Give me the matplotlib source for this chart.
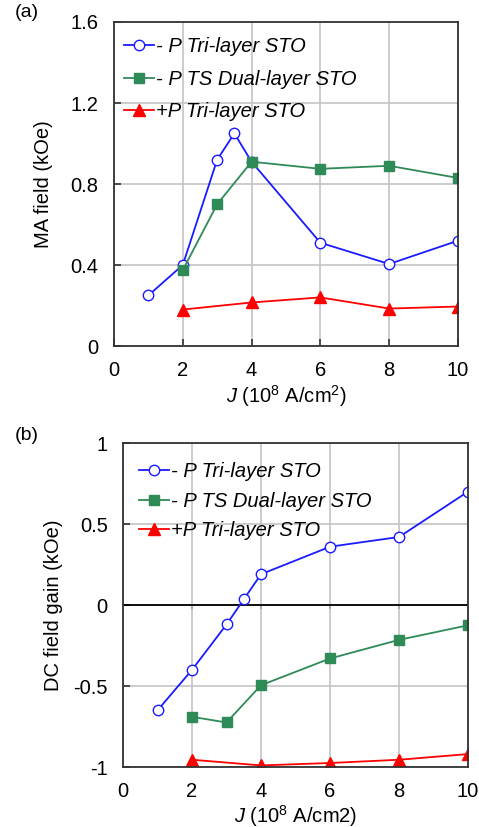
import numpy as np
import matplotlib.pyplot as plt

plt.rcParams.update({
    "font.family": ["Liberation Sans", "DejaVu Sans"],
    "font.size": 14.5,
    "mathtext.fontset": "custom",
    "mathtext.rm": "Liberation Sans",
    "mathtext.it": "Liberation Sans:italic",
    "axes.unicode_minus": False,
})

# panel (a): MA field (kOe)
j_tri = [1, 2, 3, 3.5, 4, 6, 8, 10]
ma_tri_neg = [0.25, 0.40, 0.92, 1.05, 0.91, 0.51, 0.405, 0.52]
j_dual = [2, 3, 4, 6, 8, 10]
ma_dual_neg = [0.375, 0.70, 0.91, 0.875, 0.89, 0.83]
j_pos = [2, 4, 6, 8, 10]
ma_tri_pos = [0.18, 0.215, 0.24, 0.185, 0.195]

# panel (b): DC field gain (kOe)
dc_tri_neg = [-0.65, -0.40, -0.12, 0.035, 0.19, 0.36, 0.42, 0.70]
dc_dual_neg = [-0.69, -0.725, -0.495, -0.33, -0.215, -0.125]
dc_tri_pos = [-0.955, -0.99, -0.975, -0.955, -0.92]

labels = ["- P Tri-layer STO", "- P TS Dual-layer STO", "+P Tri-layer STO"]
blue, green, red = "#1a1aff", "#2e8b57", "#ff0000"


def style(ax):
    for sp in ax.spines.values():
        sp.set_color("#333333")
        sp.set_linewidth(1.3)
    ax.grid(True, color="#c4c4c4", linewidth=1.2)
    ax.set_axisbelow(True)
    ax.set_xlim(0, 10)
    ax.set_xticks(np.arange(0, 11, 2))
    ax.tick_params(direction="in", length=5, width=1.2, color="#333333", pad=11)


def plot_series(ax, tri_neg, dual_neg, tri_pos):
    ax.plot(j_tri, tri_neg, color=blue, lw=1.3, marker="o", ms=7.5,
            mfc="white", mec=blue, mew=1.0, label=labels[0])
    ax.plot(j_dual, dual_neg, color=green, lw=1.3, marker="s", ms=6.5,
            mfc=green, mec=green, label=labels[1])
    ax.plot(j_pos, tri_pos, color=red, lw=1.3, marker="^", ms=8.5,
            mfc=red, mec=red, label=labels[2])


fig = plt.figure(figsize=(4.79, 8.27), dpi=100)
ax1 = fig.add_axes([0.238, 0.5816, 0.718, 0.3918])
ax2 = fig.add_axes([0.2568, 0.0725, 0.7203, 0.3918])

style(ax1)
plot_series(ax1, ma_tri_neg, ma_dual_neg, ma_tri_pos)
ax1.set_ylim(0, 1.6)
ax1.set_yticks([0, 0.4, 0.8, 1.2, 1.6])
ax1.set_yticklabels(["0", "0.4", "0.8", "1.2", "1.6"])
ax1.set_ylabel("MA field (kOe)")
ax1.yaxis.set_label_coords(-0.177, 0.5)
ax1.set_xlabel(r"$J$ (10$^8$ A/cm$^2$)", labelpad=2)
ax1.legend(loc="upper left", bbox_to_anchor=(-0.015, 1.0), frameon=False,
           prop={"style": "italic", "size": 14.5}, handlelength=1.5,
           handletextpad=0.1, labelspacing=0.68, borderaxespad=0.35)

style(ax2)
plot_series(ax2, dc_tri_neg, dc_dual_neg, dc_tri_pos)
ax2.set_ylim(-1, 1)
ax2.set_yticks([-1, -0.5, 0, 0.5, 1])
ax2.set_yticklabels(["-1", "-0.5", "0", "0.5", "1"])
ax2.axhline(0, color="black", lw=1.3, zorder=1.5)
sec = ax2.secondary_xaxis(0.5)
sec.set_xticks(np.arange(2, 10, 2))
sec.tick_params(direction="in", length=3, width=1.2, color="black",
                labelbottom=False, labeltop=False)
sec.spines["bottom"].set_visible(False)
sec.spines["top"].set_visible(False)
ax2.tick_params(axis="x", length=0)
ax2.set_ylabel("DC field gain (kOe)")
ax2.yaxis.set_label_coords(-0.174, 0.5)
ax2.set_xlabel(r"$J$ (10$^8$ A/cm2)", labelpad=1)
ax2.legend(loc="upper left", bbox_to_anchor=(-0.01, 1.0), frameon=False,
           prop={"style": "italic", "size": 14.5}, handlelength=1.5,
           handletextpad=0.1, labelspacing=0.52, borderaxespad=0.55)

fig.text(0.055, 0.985, "(a)", ha="center", va="center", fontsize=14)
fig.text(0.055, 0.474, "(b)", ha="center", va="center", fontsize=14)

fig.savefig("out.png", dpi=100)
